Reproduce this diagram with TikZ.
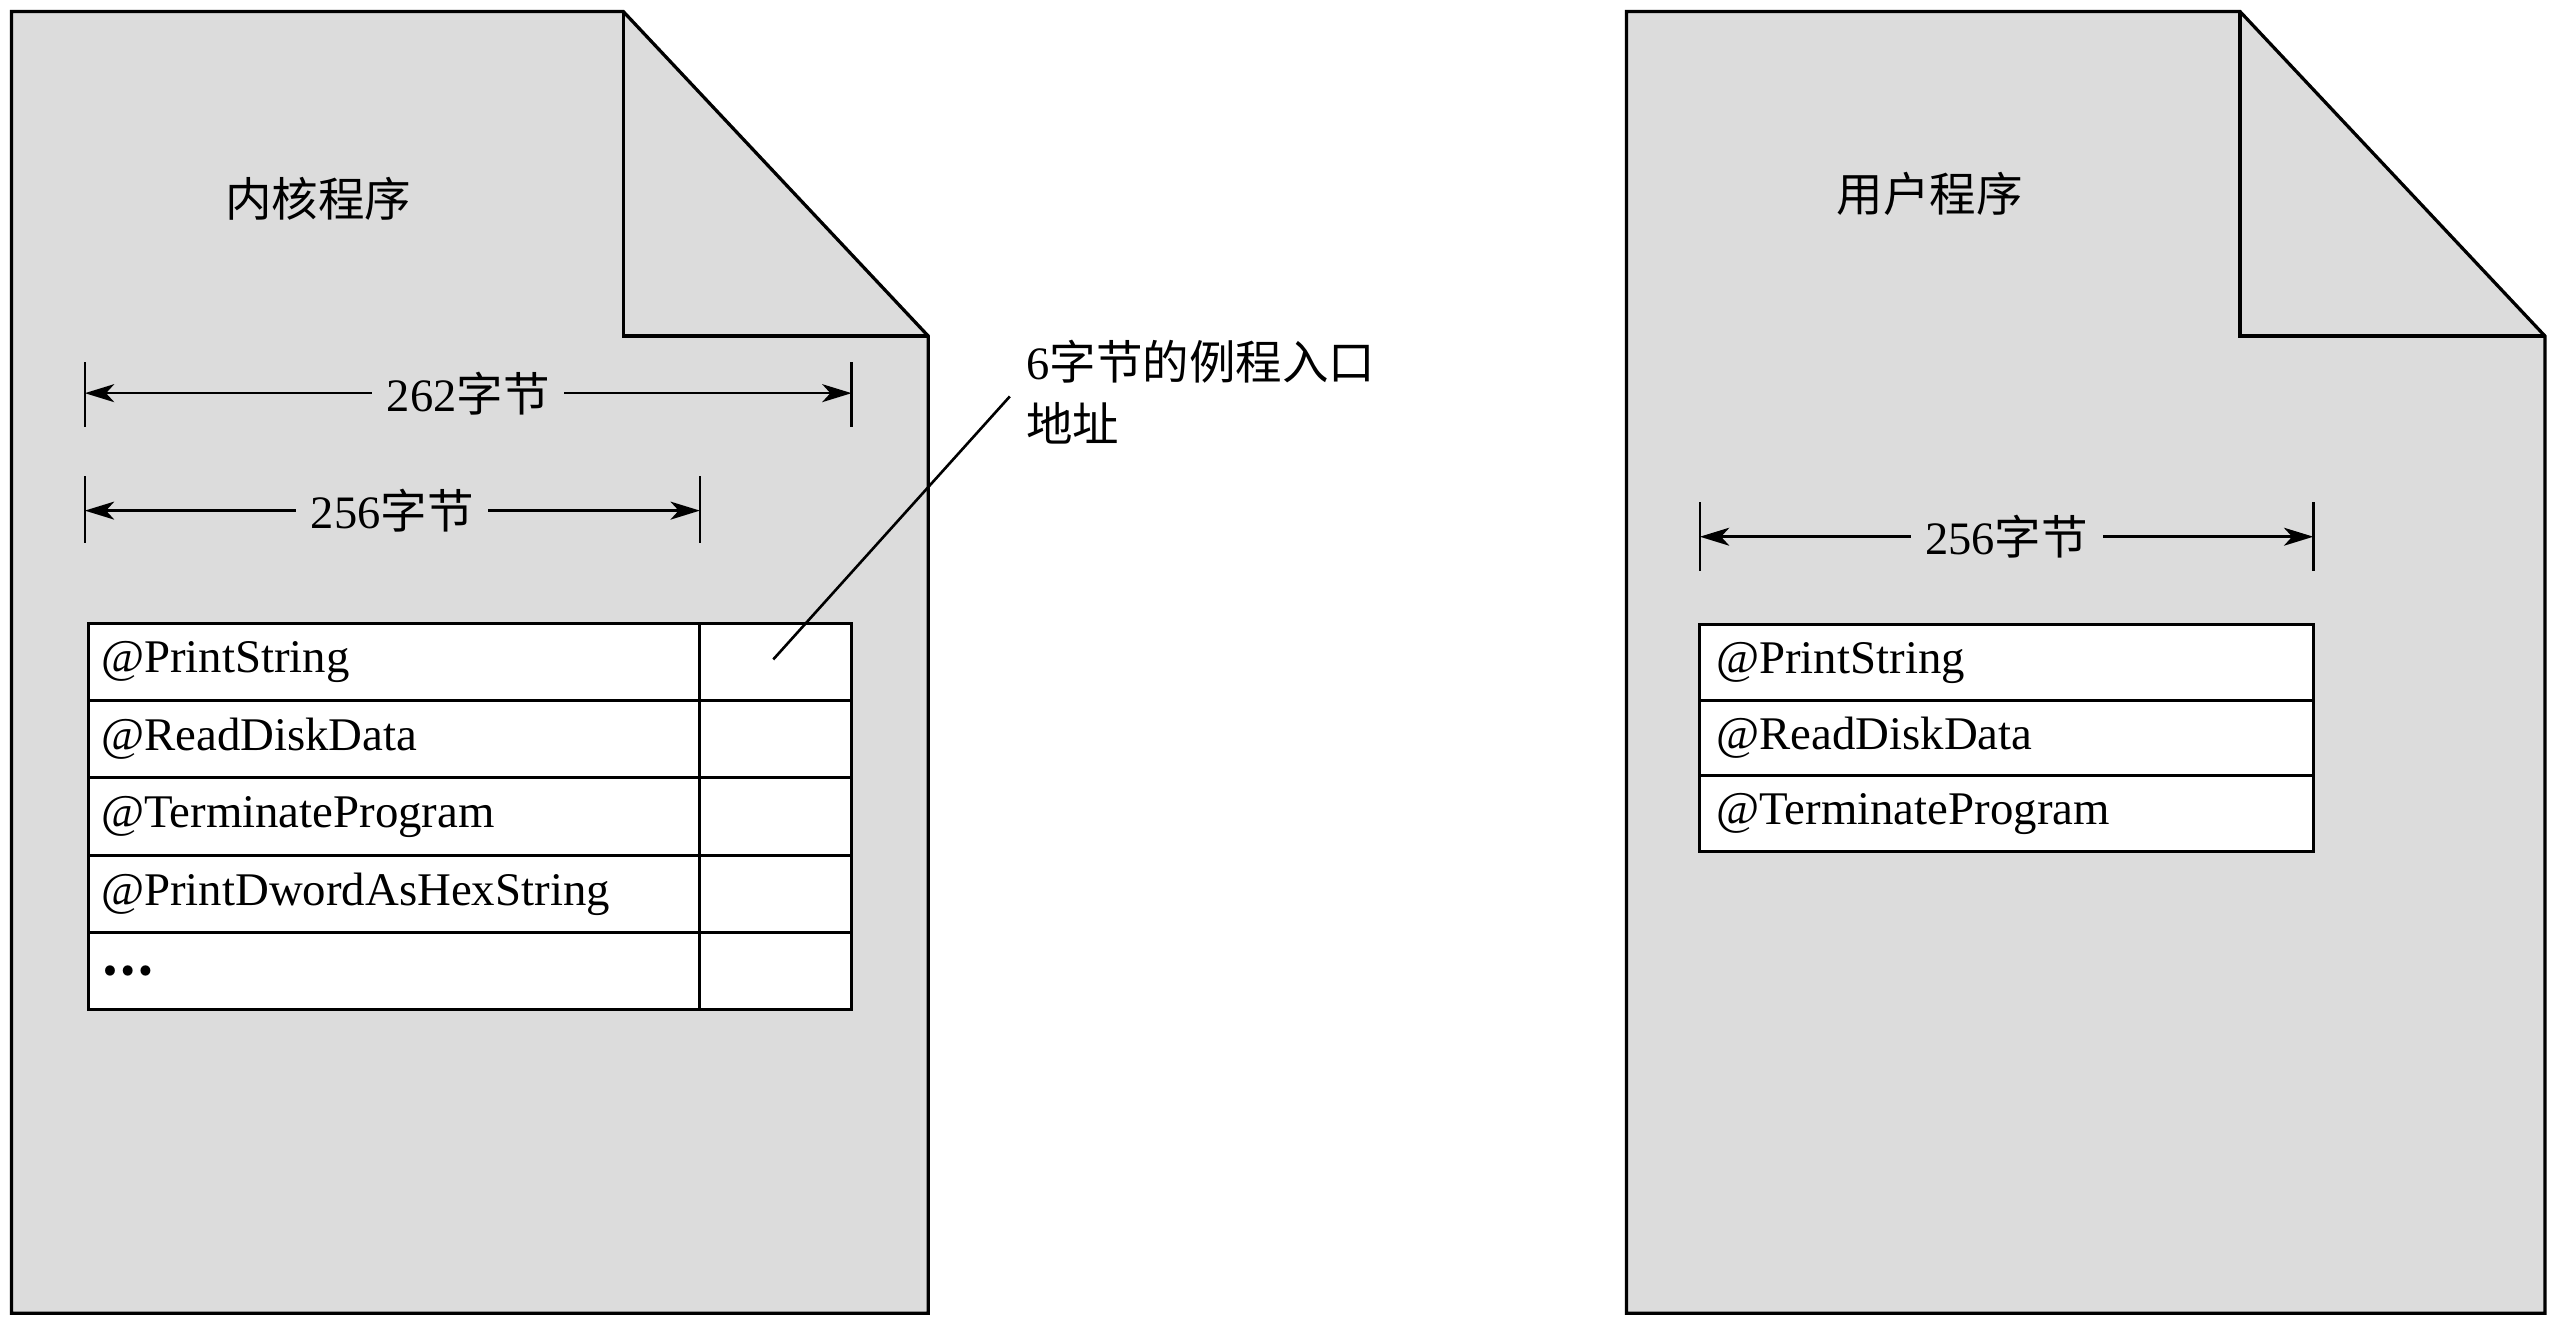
\documentclass[tikz,border=0pt]{standalone}
\usepackage{fontspec}
\setmainfont{Liberation Serif}
\newfontfamily\cjk{Noto Sans CJK SC}
\usetikzlibrary{arrows.meta}
\definecolor{pagegray}{RGB}{220,220,220}
\begin{document}
\begin{tikzpicture}[x=1pt,y=-1pt,
  page/.style={draw=black, fill=pagegray, line width=2pt, line join=miter},
  foldline/.style={draw=black, line width=2pt, line join=miter},
  cellbase/.style={draw=black, fill=white, line width=1.8pt, anchor=north west, inner sep=0pt, outer sep=0pt},
  namecell/.style={cellbase, minimum height=#1, text width=359pt, inner xsep=8pt, align=left,
     font=\fontsize{28.7}{31}\selectfont},
  addrcell/.style={cellbase, minimum height=47.4pt, minimum width=93pt},
  tick/.style={draw=black, line width=1.6pt},
  dimline/.style={draw=black, line width=1.6pt, {Stealth[length=18pt,width=11pt,inset=5pt]}-{Stealth[length=18pt,width=11pt,inset=5pt]}},
  dimlabel/.style={fill=pagegray, inner xsep=9pt, inner ysep=2pt, font=\fontsize{28.5}{30}\selectfont},
  title/.style={font=\cjk\fontsize{28.5}{32}\selectfont, inner sep=0pt},
  leader/.style={draw=black, line width=1.6pt}
]
\useasboundingbox (0,0) rectangle (1568,813);

% ---------------- left page (kernel) ----------------
\path[page] (7,7) -- (382,7) -- (569,206) -- (569,805) -- (7,805) -- cycle;
\path[foldline] (382,7) -- (382,206) -- (569,206);
\node[title] (ktitle) at (195,122) {内核程序};

% 262 bytes
\coordinate (k262l) at (52,241);
\coordinate (k262r) at (522,241);
\draw[tick] (52,222) -- (52,262);
\draw[tick] (522,222) -- (522,262);
\draw[dimline] (k262l) -- (k262r) node[midway, dimlabel] (k262) {262\cjk{字节}};

% 256 bytes
\coordinate (k256l) at (52,313);
\coordinate (k256r) at (429,313);
\draw[tick] (52,292) -- (52,333);
\draw[tick] (429,292) -- (429,333);
\draw[dimline] (k256l) -- (k256r) node[midway, dimlabel] (k256) {256\cjk{字节}};

% table
\node[namecell=47.4pt] (kn1) at (54,382)   {@PrintString};
\node[addrcell]        (ka1) at (429,382)  {};
\node[namecell=47.4pt] (kn2) at (54,429.4) {@ReadDiskData};
\node[addrcell]        (ka2) at (429,429.4){};
\node[namecell=47.4pt] (kn3) at (54,476.8) {@TerminateProgram};
\node[addrcell]        (ka3) at (429,476.8){};
\node[namecell=47.4pt] (kn4) at (54,524.2) {@PrintDwordAsHexString};
\node[addrcell]        (ka4) at (429,524.2){};
\node[namecell=47.4pt] (kn5) at (54,571.6) {\cjk{\textbf{…}}};
\node[addrcell]        (ka5) at (429,571.6){};

% annotation
\node[anchor=north west, inner sep=0pt, align=left, font=\cjk\fontsize{28.5}{38}\selectfont] (note) at (629,208)
  {{\fontspec{Liberation Serif}6}字节的例程入口\\地址};
\coordinate (leadend) at (619,243);
\draw[leader] ([xshift=-1.5pt,yshift=1.5pt]ka1.center) -- (leadend);

% ---------------- right page (user) ----------------
\path[page] (997,7) -- (1373,7) -- (1560,206) -- (1560,805) -- (997,805) -- cycle;
\path[foldline] (1373,7) -- (1373,206) -- (1560,206);
\node[title] (utitle) at (1183,119) {用户程序};

\coordinate (u256l) at (1042,329);
\coordinate (u256r) at (1418,329);
\draw[tick] (1042,308) -- (1042,350);
\draw[tick] (1418,308) -- (1418,350);
\draw[dimline] (u256l) -- (u256r) node[midway, dimlabel] (u256) {256\cjk{字节}};

\node[namecell=46.3pt, text width=356pt, inner xsep=10pt] (un1) at (1042,383)   {@PrintString};
\node[namecell=46.3pt, text width=356pt, inner xsep=10pt] (un2) at (1042,429.3) {@ReadDiskData};
\node[namecell=46.3pt, text width=356pt, inner xsep=10pt] (un3) at (1042,475.6) {@TerminateProgram};
\end{tikzpicture}
\end{document}
